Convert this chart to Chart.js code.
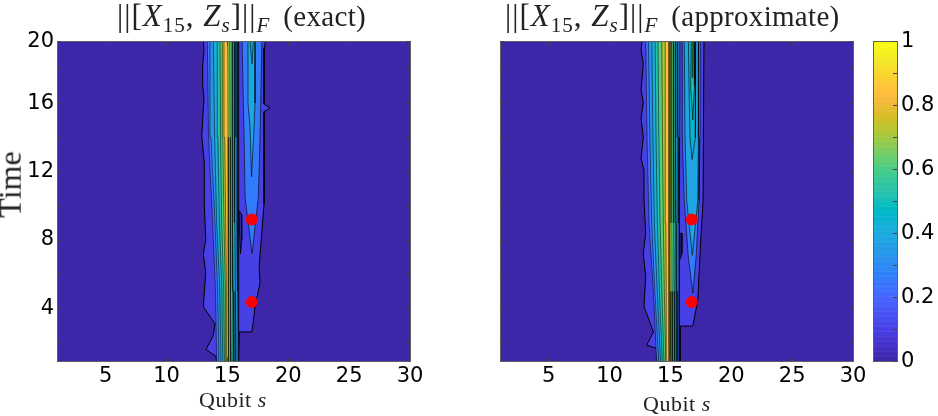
<!DOCTYPE html>
<html>
<head>
<meta charset="utf-8">
<script src="https://cdn.jsdelivr.net/npm/chart.js@4"></script>
<style>
html,body{margin:0;padding:0;background:#fff;width:938px;height:416px;overflow:hidden}
canvas{position:absolute;top:0}
.lbl{position:absolute;white-space:nowrap;font-family:"Liberation Serif",serif;color:#222}
.lbl i{font-style:italic}
.lbl sub{font-size:0.68em;line-height:0;vertical-align:-0.3em}
.gap{display:inline-block;width:13px}
.word{font-size:29px;letter-spacing:0.3px}
</style>
</head>
<body>
<canvas id="exact_chart" width="430" height="416" style="left:0"></canvas>
<canvas id="approx_chart" width="433" height="416" style="left:440px"></canvas>
<canvas id="cbar_chart" width="78" height="416" style="left:860px"></canvas>
<div class="lbl" style="left:117px;top:-2px;font-size:31px;letter-spacing:1px">||[<i>X</i><sub>15</sub>, <i>Z<sub>s</sub></i>]||<sub><i>F</i></sub><span class="gap"></span><span class="word">(exact)</span></div>
<div class="lbl" style="left:505px;top:-2px;font-size:31px;letter-spacing:1px">||[<i>X</i><sub>15</sub>, <i>Z<sub>s</sub></i>]||<sub><i>F</i></sub><span class="gap"></span><span class="word">(approximate)</span></div>
<div class="lbl" style="left:199px;top:387px;font-size:22px;letter-spacing:0.5px">Qubit <i>s</i></div>
<div class="lbl" style="left:643px;top:391px;font-size:22px;letter-spacing:0.5px">Qubit <i>s</i></div>
<div class="lbl" style="left:-23px;top:166px;font-size:32px;transform:rotate(-90deg)">Time</div>
<script>
// axis ticks
var x_ticks = [5,10,15,20,25,30];
var y_ticks = [2,4,6,8,10,12,14,16,18,19.6];
var y_tick_labels = ['','4','','8','','12','','16','','20'];
var cbar_ticks = [0,0.1,0.2,0.3,0.4,0.5,0.6,0.7,0.8,0.9,1];
var cbar_tick_labels = ['0','','0.2','','0.4','','0.6','','0.8','','1'];

// contour levels of the central ridge, lower ones first
var core_levels = [0.22,0.32,0.42,0.52,0.62,0.72,0.84];
var core_times = [0.7,5,9,14,19.8];

// exact panel
var exact_outer_x = [14.12,14.06,13.24,13.82,13.98,13.02,13.22,13.02,13.22,13.10,13.10,12.89,13.08,12.97,12.97,13.08,13.02,18.2,18.01,18.01,18.5,18.01,18.01,17.82,17.6,17.68,17.27,17.02,15.98,15.89];
var exact_outer_t = [0.7,1.2,1.6,2.4,3.1,4.1,6.1,7.2,8,10.1,12.5,14.1,16.3,17,18.3,19,19.8,19.8,19.2,15.95,15.72,15.5,10.1,8.4,6.4,5.5,4.1,2.63,2.63,0.7];
var exact_core_left = [
	[14.12,14.02,13.79,13.45,13.35],
	[14.31,14.2,13.98,13.65,13.57],
	[14.48,14.38,14.12,13.95,13.84],
	[14.62,14.55,14.34,14.22,14.17],
	[14.75,14.7,14.53,14.44,14.39],
	[14.86,14.83,14.72,14.62,14.58],
	[14.94,14.92,14.86,14.78,14.72]
];
var exact_core_right = [
	[15.89,15.92,15.95,15.93,15.91],
	[15.77,15.8,15.85,15.82,15.79],
	[15.63,15.66,15.71,15.7,15.68],
	[15.49,15.52,15.57,15.57,15.57],
	[15.35,15.38,15.44,15.4,15.38],
	[15.22,15.24,15.27,15.22,15.19],
	[15.08,15.08,15.08,15.05,15.03]
];
var exact_lobe_levels = [0.26,0.38,0.46];
var exact_lobe_x = [
	[17.02,16.45,16.37,16.2,17.84,17.68,17.54],
	[16.98,16.86,16.69,16.69,17.27,17.27,17.19],
	[17.02,16.85,17.15]
];
var exact_lobe_t = [
	[7.2,10.5,14,19.8,19.8,14,10.5],
	[11.7,14.6,16,19.8,19.8,16,14.6],
	[18.3,19.8,19.8]
];
var exact_hole_x = [16.08,16.0,16.0,16.15,16.18];
var exact_hole_t = [7.2,8.5,9.7,9.5,8];
var exact_dots_x = [17,17];
var exact_dots_t = [4.37,9.2];

// approximate panel
var approx_outer_x = [13.88,13.88,13.05,13.60,13.05,12.83,12.97,12.77,12.97,12.83,12.83,12.59,12.77,12.59,12.77,12.59,12.77,12.59,12.69,17.76,17.68,17.52,17.25,16.84,15.79,15.79];
var approx_outer_t = [0.7,1.66,1.86,2.63,3.7,4.09,5.85,7.23,8.4,10.3,12.08,12.76,14.02,15.1,16.07,16.75,18.3,19.09,19.8,19.8,10.3,8.4,4.49,2.97,2.97,0.7];
var approx_core_left = [
	[13.88,13.6,13.24,13.08,12.97],
	[14.06,13.72,13.46,13.32,13.19],
	[14.2,13.92,13.68,13.56,13.47],
	[14.34,14.1,13.93,13.82,13.74],
	[14.48,14.3,14.15,14.05,13.98],
	[14.62,14.5,14.42,14.35,14.29],
	[14.7,14.66,14.62,14.58,14.56]
];
var approx_core_right = [
	[15.73,15.73,15.73,15.76,15.79],
	[15.6,15.62,15.65,15.68,15.72],
	[15.46,15.49,15.52,15.56,15.6],
	[15.32,15.35,15.38,15.41,15.44],
	[15.16,15.2,15.24,15.24,15.24],
	[15.03,15.04,15.05,15.05,15.05],
	[14.89,14.89,14.89,14.89,14.89]
];
var approx_lobe_levels = [0.26,0.38,0.44,0.52,0.62];
var approx_lobe_x = [
	[16.84,16.47,16.14,15.98,15.98,17.46,17.43,17.35,17.11],
	[16.80,16.34,16.2,16.14,17.3,17.3,17.25],
	[16.78,16.61,16.53,16.47,17.08,17.08,17.02],
	[16.84,16.67,16.72,17.0,16.97],
	[16.84,16.8,16.9]
];
var approx_lobe_t = [
	[4.9,7,10.3,14,19.8,19.8,14,10.3,7],
	[7.1,10.3,14,19.8,19.8,14,10.3],
	[12.7,14,17,19.8,19.8,17,14],
	[15,17,19.8,19.8,17],
	[17.5,19.8,19.8]
];
var approx_hole_x = [15.82,15.8,15.93,15.95];
var approx_hole_t = [6.9,8.4,8.4,7.2];
var approx_dots_x = [16.75,16.75];
var approx_dots_t = [4.37,9.2];

// rectangle behind everything, the lowest band
var base_x = [0,31,31,0,0];
var base_t = [0,0,21,21,0];

// colour table of the map, 64 steps
var parula = [
[.2422,.1504,.6603],[.2504,.1650,.7076],[.2578,.1818,.7511],[.2647,.1978,.7952],
[.2706,.2147,.8364],[.2751,.2342,.8710],[.2783,.2559,.8991],[.2803,.2782,.9221],
[.2813,.3006,.9414],[.2810,.3228,.9579],[.2795,.3447,.9717],[.2760,.3667,.9829],
[.2699,.3892,.9906],[.2602,.4123,.9952],[.2440,.4358,.9988],[.2206,.4603,.9973],
[.1963,.4847,.9892],[.1834,.5074,.9798],[.1786,.5289,.9682],[.1764,.5499,.9520],
[.1687,.5703,.9359],[.1540,.5902,.9218],[.1460,.6091,.9079],[.1380,.6276,.8973],
[.1248,.6459,.8883],[.1113,.6635,.8763],[.0952,.6798,.8598],[.0689,.6948,.8394],
[.0297,.7082,.8163],[.0036,.7203,.7917],[.0067,.7312,.7660],[.0433,.7411,.7394],
[.0964,.7500,.7120],[.1408,.7584,.6842],[.1717,.7670,.6554],[.1938,.7758,.6251],
[.2161,.7843,.5923],[.2470,.7918,.5567],[.2906,.7973,.5188],[.3406,.8008,.4789],
[.3909,.8029,.4354],[.4456,.8024,.3909],[.5044,.7993,.3480],[.5616,.7942,.3045],
[.6174,.7876,.2612],[.6720,.7793,.2227],[.7242,.7698,.1910],[.7738,.7598,.1646],
[.8203,.7498,.1535],[.8634,.7406,.1596],[.9035,.7330,.1774],[.9393,.7288,.2100],
[.9728,.7298,.2394],[.9956,.7434,.2371],[.9970,.7659,.2199],[.9952,.7893,.2028],
[.9892,.8136,.1885],[.9786,.8386,.1766],[.9676,.8639,.1643],[.9610,.8890,.1537],
[.9597,.9135,.1423],[.9628,.9373,.1265],[.9691,.9606,.1064],[.9769,.9839,.0805]
];

var AXIS_COLOR = '#606060';
var LABEL_FONT = {family:'"DejaVu Sans"', size:21};

function level_color(level){
	var c = parula[Math.round(level*(parula.length-1))];
	return 'rgb('+Math.round(c[0]*255)+','+Math.round(c[1]*255)+','+Math.round(c[2]*255)+')';
}

function zip_points(xs,ts){
	var pts = [];
	for(var i=0;i<xs.length;i++){
		pts.push({x:xs[i],y:ts[i]});
	}
	return pts;
}

function band(xs,ts,level,line_width){
	var pts = zip_points(xs,ts);
	pts.push({x:xs[0],y:ts[0]});
	return {
		data:pts,
		showLine:true,
		fill:'shape',
		tension:0,
		pointRadius:0,
		borderColor:'#000',
		borderWidth:line_width,
		borderJoinStyle:'round',
		backgroundColor:level_color(level)
	};
}

function core_band(left,right,level){
	var xs = left.concat(right.slice().reverse());
	var ts = core_times.concat(core_times.slice().reverse());
	return band(xs,ts,level,0.5);
}

function build_datasets(p){
	var sets = [];
	sets.push(band(base_x,base_t,0,0));
	sets.push(band(p.outer_x,p.outer_t,0.1,1));
	sets.push(band(p.hole_x,p.hole_t,0,0.8));
	for(var i=0;i<p.lobe_levels.length;i++){
		sets.push(band(p.lobe_x[i],p.lobe_t[i],p.lobe_levels[i],0.6));
	}
	for(var j=0;j<core_levels.length;j++){
		sets.push(core_band(p.core_left[j],p.core_right[j],core_levels[j]));
	}
	sets.push({
		data:zip_points(p.dots_x,p.dots_t),
		showLine:false,
		pointRadius:6,
		pointBackgroundColor:'#ff0000',
		pointBorderWidth:0
	});
	// chart.js paints the lowest order last
	for(var k=0;k<sets.length;k++){
		sets[k].order = sets.length-k;
	}
	return sets;
}

function fixed_size(prop,val){
	return function(scale){ scale[prop] = val; };
}

function set_ticks(values){
	return function(scale){
		scale.ticks = values.map(function(v){ return {value:v}; });
	};
}

function inner_grid(){
	return {drawOnChartArea:false,drawTicks:true,tickLength:-4,tickColor:'#444',z:1};
}

function draw_panel(id,p,left_w,right_w,show_y){
	var ctx = document.getElementById(id).getContext('2d');
	var border = {color:AXIS_COLOR,width:1,z:1};
	new Chart(ctx,{
		type:'scatter',
		data:{datasets:build_datasets(p)},
		options:{
			responsive:false,
			animation:false,
			events:[],
			layout:{padding:0},
			plugins:{legend:{display:false},title:{display:false},tooltip:{enabled:false}},
			scales:{
				x:{type:'linear',position:'bottom',min:1,max:30,border:border,grid:inner_grid(),
					afterBuildTicks:set_ticks(x_ticks),afterFit:fixed_size('height',54.5),
					ticks:{font:LABEL_FONT,color:'#000',padding:6,maxRotation:0,autoSkip:false,
						callback:function(v){ return String(v); }}},
				x2:{type:'linear',axis:'x',position:'top',min:1,max:30,border:border,grid:inner_grid(),
					afterBuildTicks:set_ticks(x_ticks),afterFit:fixed_size('height',41.5),
					ticks:{display:false}},
				y:{type:'linear',position:'left',min:0.9,max:19.6,border:border,grid:inner_grid(),
					afterBuildTicks:set_ticks(y_ticks),afterFit:fixed_size('width',left_w),
					ticks:{display:show_y,font:LABEL_FONT,color:'#000',padding:7,autoSkip:false,
						callback:function(v){ return y_tick_labels[y_ticks.indexOf(v)]; }}},
				y2:{type:'linear',axis:'y',position:'right',min:0.9,max:19.6,border:border,grid:inner_grid(),
					afterBuildTicks:set_ticks(y_ticks),afterFit:fixed_size('width',right_w),
					ticks:{display:false}}
			}
		}
	});
}

function draw_colorbar(){
	var ctx = document.getElementById('cbar_chart').getContext('2d');
	var border = {color:AXIS_COLOR,width:1,z:1};
	var sets = [];
	for(var i=0;i<parula.length;i++){
		sets.push({
			data:[1/parula.length],
			backgroundColor:level_color(i/(parula.length-1)),
			borderWidth:0,
			barPercentage:1,
			categoryPercentage:1
		});
	}
	new Chart(ctx,{
		type:'bar',
		data:{labels:[''],datasets:sets},
		options:{
			responsive:false,
			animation:false,
			events:[],
			layout:{padding:{left:13}},
			plugins:{legend:{display:false},title:{display:false},tooltip:{enabled:false}},
			scales:{
				x:{stacked:true,position:'bottom',border:border,
					grid:{drawOnChartArea:false,drawTicks:false},
					ticks:{display:false},afterFit:fixed_size('height',54.5)},
				x2:{type:'category',axis:'x',labels:[''],position:'top',border:border,
					grid:{drawOnChartArea:false,drawTicks:false},
					ticks:{display:false},afterFit:fixed_size('height',41.5)},
				y:{stacked:true,type:'linear',position:'right',min:0,max:1,border:border,grid:inner_grid(),
					afterBuildTicks:set_ticks(cbar_ticks),afterFit:fixed_size('width',41),
					ticks:{font:LABEL_FONT,color:'#000',padding:8,autoSkip:false,
						callback:function(v){ return cbar_tick_labels[cbar_ticks.indexOf(v)]; }}},
				y2:{type:'linear',axis:'y',position:'left',min:0,max:1,border:border,
					grid:{drawOnChartArea:false,drawTicks:false},
					ticks:{display:false},afterFit:fixed_size('width',0)}
			}
		}
	});
}

draw_panel('exact_chart',{
	outer_x:exact_outer_x,outer_t:exact_outer_t,
	core_left:exact_core_left,core_right:exact_core_right,
	lobe_levels:exact_lobe_levels,lobe_x:exact_lobe_x,lobe_t:exact_lobe_t,
	hole_x:exact_hole_x,hole_t:exact_hole_t,
	dots_x:exact_dots_x,dots_t:exact_dots_t
},57,20,true);
draw_panel('approx_chart',{
	outer_x:approx_outer_x,outer_t:approx_outer_t,
	core_left:approx_core_left,core_right:approx_core_right,
	lobe_levels:approx_lobe_levels,lobe_x:approx_lobe_x,lobe_t:approx_lobe_t,
	hole_x:approx_hole_x,hole_t:approx_hole_t,
	dots_x:approx_dots_x,dots_t:approx_dots_t
},60,20,false);
draw_colorbar();
</script>
</body>
</html>
